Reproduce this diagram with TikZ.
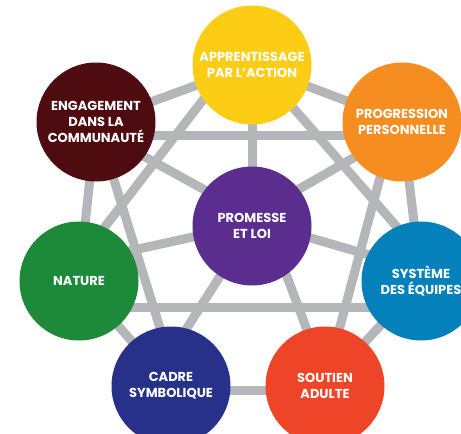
\documentclass[tikz,border=0pt]{standalone}
\usepackage{fontspec}
\setmainfont{Poppins}
\usetikzlibrary{backgrounds}
\definecolor{cYellow}{HTML}{FDCD15}
\definecolor{cOrange}{HTML}{F68D20}
\definecolor{cDarkRed}{HTML}{4E0C11}
\definecolor{cPurple}{HTML}{5B2D8E}
\definecolor{cGreen}{HTML}{1D8A3A}
\definecolor{cBlue}{HTML}{0480BA}
\definecolor{cNavy}{HTML}{283189}
\definecolor{cRed}{HTML}{EE4428}
\definecolor{cGray}{HTML}{B5B6B9}
\tikzset{
  bubble/.style={circle, minimum size=119pt, inner sep=0pt, text=white,
    font=\bfseries\fontsize{13}{16}\selectfont, align=center},
  link/.style={line width=9pt, draw=cGray},
}
\begin{document}
\begin{tikzpicture}[x=1pt,y=-1pt]
\useasboundingbox (0,0) rectangle (461,434);
\node[bubble, fill=cYellow]  (T) at (252,65)  {APPRENTISSAGE\\PAR L’ACTION};
\node[bubble, fill=cDarkRed] (E) at (96,122)  {ENGAGEMENT\\DANS LA\\COMMUNAUTÉ};
\node[bubble, fill=cOrange]  (P) at (402,122) {PROGRESSION\\PERSONNELLE};
\node[bubble, fill=cPurple]  (C) at (252,226) {PROMESSE\\ET LOI};
\node[bubble, fill=cGreen]   (N) at (79,281)  {NATURE};
\node[bubble, fill=cBlue]    (S) at (421,281) {SYSTÈME\\DES ÉQUIPES};
\node[bubble, fill=cNavy]    (K) at (171,386) {CADRE\\SYMBOLIQUE};
\node[bubble, fill=cRed]     (A) at (325,386) {SOUTIEN\\ADULTE};
\begin{scope}[on background layer]
  % outer ring
  \draw[link] (T.center) -- (E.center);
  \draw[link] (T.center) -- (P.center);
  \draw[link] (E.center) -- (N.center);
  \draw[link] (P.center) -- (S.center);
  \draw[link] (N.center) -- (K.center);
  \draw[link] (S.center) -- (A.center);
  \draw[link] ([shift={(0,4)}]K.center) -- ([shift={(0,4)}]A.center);
  % spokes to the centre
  \draw[link] (T.center) -- (C.center);
  \draw[link] ([shift={(0,8)}]E.center) -- ([shift={(0,-10)}]C.center);
  \draw[link] ([shift={(0,8)}]P.center) -- ([shift={(0,-10)}]C.center);
  \draw[link] ([shift={(0,-19)}]N.center) -- ([shift={(0,-2)}]C.center);
  \draw[link] ([shift={(0,-11)}]S.center) -- ([shift={(0,-5)}]C.center);
  \draw[link] (C.center) -- ([shift={(-21,0)}]K.center);
  \draw[link] ([shift={(16,0)}]C.center) -- ([shift={(3,0)}]A.center);
  % chords
  \draw[link] ([shift={(0,13)}]E.center) -- ([shift={(0,13)}]P.center);
  \draw[link] ([shift={(0,26)}]N.center) -- ([shift={(0,26)}]S.center);
  \draw[link] ([shift={(-22,0)}]T.center) -- ([shift={(-16,0)}]N.center);
  \draw[link] ([shift={(4,0)}]T.center) -- ([shift={(23,0)}]S.center);
  \draw[link] (E.center) -- ([shift={(7,0)}]K.center);
  \draw[link] ([shift={(-7,0)}]P.center) -- ([shift={(-1,0)}]A.center);
\end{scope}
\end{tikzpicture}
\end{document}
